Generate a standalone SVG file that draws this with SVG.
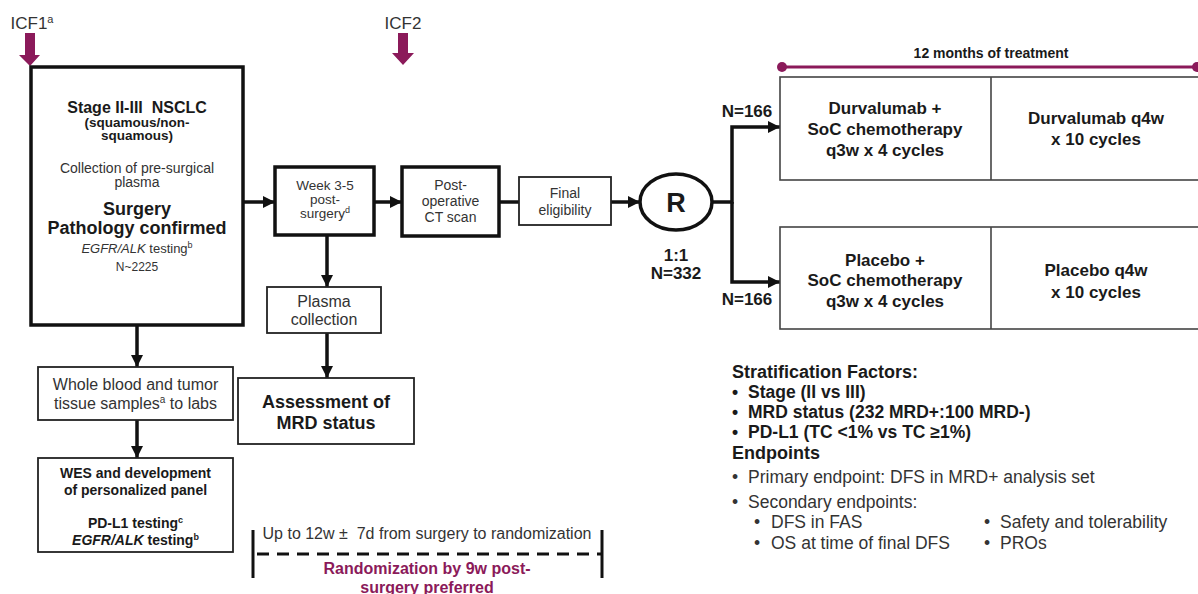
<svg xmlns="http://www.w3.org/2000/svg" width="1198" height="594" viewBox="0 0 1198 594">
<style>
text{font-family:"Liberation Sans",Arial,sans-serif;text-anchor:middle;fill:#333}
.b{font-weight:bold;fill:#1a1a1a}
.l{text-anchor:start}
.p{fill:#8B1A5A;font-weight:bold}
.thick{fill:#fff;stroke:#111;stroke-width:3.5}
.thin{fill:#fff;stroke:#222;stroke-width:1.8}
.arm{fill:#fff;stroke:#444;stroke-width:1.6}
.con{fill:none;stroke:#111;stroke-width:3.5}
.icf{fill:#8B1A5A}
</style>
<defs>
<marker id="ah" markerUnits="userSpaceOnUse" markerWidth="13" markerHeight="13" refX="12" refY="6" orient="auto">
<path d="M0,0 L12,6 L0,12 z" fill="#111"/>
</marker>
</defs>
<rect width="1198" height="594" fill="#fff"/>

<g id="icf1">
<text x="32" y="29" style="font-size:17px">ICF1<tspan style="font-size:11px" dy="-6">a</tspan></text>
<path class="icf" d="M25,33 H35 V55 H40 L30,66 L19,55 H25 Z"/>
</g>
<g id="icf2">
<text x="403" y="29" style="font-size:17px">ICF2</text>
<path class="icf" d="M398,33 H408 V53 H414 L403,65 L392,53 H398 Z"/>
</g>

<g id="connectors">
<line class="con" x1="243" y1="202" x2="275" y2="202" marker-end="url(#ah)"/>
<line class="con" x1="374" y1="202" x2="402" y2="202" marker-end="url(#ah)"/>
<line class="con" x1="499" y1="202" x2="519" y2="202"/>
<line class="con" x1="611" y1="202" x2="640" y2="202" marker-end="url(#ah)"/>
<line class="con" x1="137" y1="325" x2="137" y2="367" marker-end="url(#ah)"/>
<line class="con" x1="137" y1="420" x2="137" y2="458" marker-end="url(#ah)"/>
<line class="con" x1="327" y1="235" x2="327" y2="287" marker-end="url(#ah)"/>
<line class="con" x1="327" y1="333" x2="327" y2="378" marker-end="url(#ah)"/>
<path class="con" d="M712,202 H732 V127 H780" marker-end="url(#ah)"/>
<path class="con" d="M732,202 V282 H780" marker-end="url(#ah)"/>
</g>

<g id="main">
<rect class="thick" x="31" y="67" width="212" height="258"/>
<text class="b" x="137" y="113" style="font-size:16px">Stage II-III&#160; NSCLC</text>
<text class="b" x="137" y="127" style="font-size:13.5px">(squamous/non-</text>
<text class="b" x="137" y="140" style="font-size:13.5px">squamous)</text>
<text x="137" y="173" style="font-size:14px">Collection of pre-surgical</text>
<text x="137" y="187" style="font-size:14px">plasma</text>
<text class="b" x="137" y="214.5" style="font-size:18px">Surgery</text>
<text class="b" x="137" y="233.5" style="font-size:18px">Pathology confirmed</text>
<text x="137" y="253" style="font-size:13px"><tspan font-style="italic">EGFR/ALK</tspan> testing<tspan style="font-size:9px" dy="-5">b</tspan></text>
<text x="137" y="271" style="font-size:12px">N~2225</text>
</g>

<g id="week">
<rect class="thick" x="275" y="167" width="99" height="68"/>
<text x="325" y="190" style="font-size:13.5px">Week 3-5</text>
<text x="325" y="204" style="font-size:13.5px">post-</text>
<text x="325" y="218" style="font-size:13.5px">surgery<tspan style="font-size:9px" dy="-5">d</tspan></text>
</g>

<g id="postop">
<rect class="thick" x="402" y="167" width="97" height="69"/>
<text x="450.5" y="190" style="font-size:14px">Post-</text>
<text x="450.5" y="206" style="font-size:14px">operative</text>
<text x="450.5" y="222" style="font-size:14px">CT scan</text>
</g>

<g id="final">
<rect class="thin" x="519" y="177" width="92" height="48"/>
<text x="565" y="198" style="font-size:14px">Final</text>
<text x="565" y="215" style="font-size:14px">eligibility</text>
</g>

<g id="rand">
<ellipse cx="676" cy="202" rx="36" ry="28" fill="#fff" stroke="#111" stroke-width="3.5"/>
<text class="b" x="676" y="212" style="font-size:27px">R</text>
<text class="b" x="676" y="261" style="font-size:17px">1:1</text>
<text class="b" x="676" y="279" style="font-size:17px">N=332</text>
</g>

<g id="plasma">
<rect class="thin" x="267" y="287" width="114" height="46"/>
<text x="324" y="307" style="font-size:16px">Plasma</text>
<text x="324" y="325" style="font-size:16px">collection</text>
</g>

<g id="mrd">
<rect class="thin" x="238" y="378" width="176" height="66"/>
<text class="b" x="326" y="408" style="font-size:18px">Assessment of</text>
<text class="b" x="326" y="429" style="font-size:18px">MRD status</text>
</g>

<g id="blood">
<rect class="thin" x="38" y="367" width="195" height="53"/>
<text x="135.5" y="390" style="font-size:16px">Whole blood and tumor</text>
<text x="135.5" y="409" style="font-size:16px">tissue samples<tspan style="font-size:10px" dy="-6">a</tspan><tspan dy="6"> to labs</tspan></text>
</g>

<g id="wes">
<rect class="thin" x="38" y="458" width="195" height="94"/>
<text class="b" x="135.5" y="478" style="font-size:14px">WES and development</text>
<text class="b" x="135.5" y="495" style="font-size:14px">of personalized panel</text>
<text class="b" x="135.5" y="528" style="font-size:14px">PD-L1 testing<tspan style="font-size:9px" dy="-5">c</tspan></text>
<text class="b" x="135.5" y="545" style="font-size:14px"><tspan font-style="italic">EGFR/ALK</tspan> testing<tspan style="font-size:9px" dy="-5">b</tspan></text>
</g>

<g id="timeline">
<line x1="253" y1="530" x2="253" y2="578" stroke="#111" stroke-width="3"/>
<line x1="602" y1="530" x2="602" y2="578" stroke="#111" stroke-width="3"/>
<line x1="253" y1="554" x2="602" y2="554" stroke="#111" stroke-width="3" stroke-dasharray="12 8" stroke-dashoffset="-4"/>
<text x="427" y="539" style="font-size:16px">Up to 12w ± &#160;7d from surgery to randomization</text>
<text class="p" x="427" y="574" style="font-size:16px">Randomization by 9w post-</text>
<text class="p" x="427" y="593" style="font-size:16px">surgery preferred</text>
</g>

<g id="duration">
<text class="b" x="991" y="58" style="font-size:14px">12 months of treatment</text>
<line x1="782" y1="67" x2="1198" y2="67" stroke="#8B1A5A" stroke-width="3"/>
<circle cx="782" cy="67" r="5" fill="#8B1A5A"/>
<circle cx="1197" cy="67" r="5" fill="#8B1A5A"/>
</g>

<g id="arm1">
<rect class="arm" x="780" y="77" width="422" height="103"/>
<line x1="991" y1="77" x2="991" y2="180" stroke="#444" stroke-width="1.6"/>
<text class="b" x="885" y="114" style="font-size:17px">Durvalumab +</text>
<text class="b" x="885" y="135" style="font-size:17px">SoC chemotherapy</text>
<text class="b" x="885" y="156" style="font-size:17px">q3w x 4 cycles</text>
<text class="b" x="1096" y="124" style="font-size:17px">Durvalumab q4w</text>
<text class="b" x="1096" y="145" style="font-size:17px">x 10 cycles</text>
<text class="b" x="747" y="117" style="font-size:17px">N=166</text>
</g>

<g id="arm2">
<rect class="arm" x="780" y="227" width="422" height="102"/>
<line x1="991" y1="227" x2="991" y2="329" stroke="#444" stroke-width="1.6"/>
<text class="b" x="885" y="266" style="font-size:17px">Placebo +</text>
<text class="b" x="885" y="286" style="font-size:17px">SoC chemotherapy</text>
<text class="b" x="885" y="307" style="font-size:17px">q3w x 4 cycles</text>
<text class="b" x="1096" y="276" style="font-size:17px">Placebo q4w</text>
<text class="b" x="1096" y="298" style="font-size:17px">x 10 cycles</text>
<text class="b" x="747" y="305" style="font-size:17px">N=166</text>
</g>

<g id="notes" style="font-size:17.5px">
<text class="b l" x="732" y="378" style="font-size:18px">Stratification Factors:</text>
<text class="b l" x="732" y="398">•</text><text class="b l" x="748" y="398">Stage (II vs III)</text>
<text class="b l" x="732" y="418">•</text><text class="b l" x="748" y="418">MRD status (232 MRD+:100 MRD-)</text>
<text class="b l" x="732" y="438">•</text><text class="b l" x="748" y="438">PD-L1 (TC &lt;1% vs TC ≥1%)</text>
<text class="b l" x="732" y="459" style="font-size:18px">Endpoints</text>
<text class="l" x="732" y="483">•</text><text class="l" x="748" y="483">Primary endpoint: DFS in MRD+ analysis set</text>
<text class="l" x="732" y="508">•</text><text class="l" x="748" y="508">Secondary endpoints:</text>
<text class="l" x="754" y="528">•</text><text class="l" x="771" y="528">DFS in FAS</text>
<text class="l" x="754" y="549">•</text><text class="l" x="771" y="549">OS at time of final DFS</text>
<text class="l" x="984" y="528">•</text><text class="l" x="1000" y="528">Safety and tolerability</text>
<text class="l" x="984" y="549">•</text><text class="l" x="1000" y="549">PROs</text>
</g>
</svg>
